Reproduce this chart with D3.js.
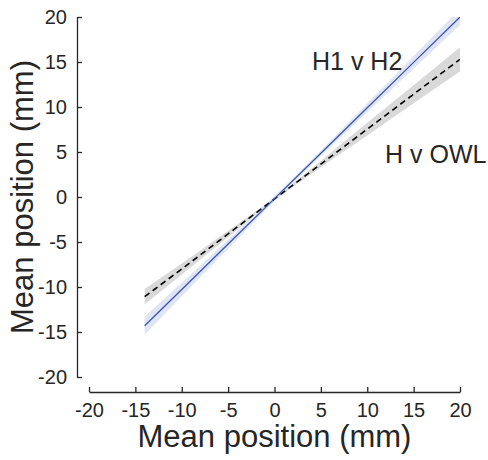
<!DOCTYPE html>
<html><head><meta charset="utf-8">
<script src="https://cdn.jsdelivr.net/npm/d3@7"></script>
<style>body{margin:0;background:#fff}svg{display:block}text{font-family:"Liberation Sans",Arial,sans-serif;fill:#262626}</style>
</head><body>
<svg id="c" width="488" height="460"></svg>
<script>
// Data
const xTicks = [-20,-15,-10,-5,0,5,10,15,20];
const yTicks = [-20,-15,-10,-5,0,5,10,15,20];
const fitX = [-14,-10,-5,0,5,10,15,20];
const h1h2Y = [-14.3,-10.27,-5.22,-0.18,4.87,9.91,14.96,20.0];
const h1h2Half = [1.0,0.75,0.5,0.3,0.3,0.5,0.7,0.9];
const howlY = [-11.08,-8.0,-4.1,-0.22,3.66,7.54,11.42,15.3];
const howlHalf = [0.85,0.6,0.35,0.15,0.35,0.7,1.0,1.35];
const labels = ["H1 v H2","H v OWL"];

const svg = d3.select("#c");
const x = d3.scaleLinear().domain([-20,20]).range([89,460]);
const y = d3.scaleLinear().domain([-20,20]).range([377,17]);

svg.append("defs").append("clipPath").attr("id","clip")
  .append("rect").attr("x",x(-20)).attr("y",y(20)).attr("width",x(20)-x(-20)).attr("height",y(-20)-y(20));
const plot = svg.append("g").attr("clip-path","url(#clip)");

const area = (ys,hs)=> d3.area().x((d,i)=>x(fitX[i])).y0((d,i)=>y(ys[i]-hs[i])).y1((d,i)=>y(ys[i]+hs[i])).curve(d3.curveMonotoneX)(fitX);
const line = ys => d3.line().x((d,i)=>x(fitX[i])).y((d,i)=>y(ys[i]))(fitX);

plot.append("path").attr("d",area(howlY,howlHalf)).attr("fill","#d9d9d9");
plot.append("path").attr("d",area(h1h2Y,h1h2Half)).attr("fill","#dce2f4").attr("opacity",0.9);
plot.append("path").attr("d",line(howlY)).attr("fill","none").attr("stroke","#000").attr("stroke-width",1.6).attr("stroke-dasharray","6,4");
plot.append("path").attr("d",line(h1h2Y)).attr("fill","none").attr("stroke","#3b55ad").attr("stroke-width",1.3);

// axes
const fmt = d => String(d);
const xa = svg.append("g").attr("transform","translate(0,392)")
  .call(d3.axisBottom(x).tickValues(xTicks).tickFormat(fmt).tickSizeInner(-5).tickSizeOuter(0).tickPadding(11));
const ya = svg.append("g").attr("transform","translate(77,0)")
  .call(d3.axisLeft(y).tickValues(yTicks).tickFormat(fmt).tickSizeInner(-5).tickSizeOuter(0).tickPadding(10));
[xa,ya].forEach(a=>{
  a.select(".domain").attr("stroke","#262626").attr("stroke-width",1.3);
  a.selectAll(".tick line").attr("stroke","#262626").attr("stroke-width",1.3);
  a.selectAll("text").style("font-size","20px").attr("fill","#262626");
});
xa.selectAll("text").attr("dy","0.71em");

svg.append("text").attr("x",274.5).attr("y",447).attr("text-anchor","middle").style("font-size","31px").text("Mean position (mm)");
svg.append("text").attr("transform","translate(33,197) rotate(-90)").attr("text-anchor","middle").style("font-size","31px").text("Mean position (mm)");

svg.append("text").attr("x",312).attr("y",70).style("font-size","25px").text(labels[0]);
svg.append("text").attr("x",385).attr("y",163).style("font-size","25px").text(labels[1]);
</script>
</body></html>
